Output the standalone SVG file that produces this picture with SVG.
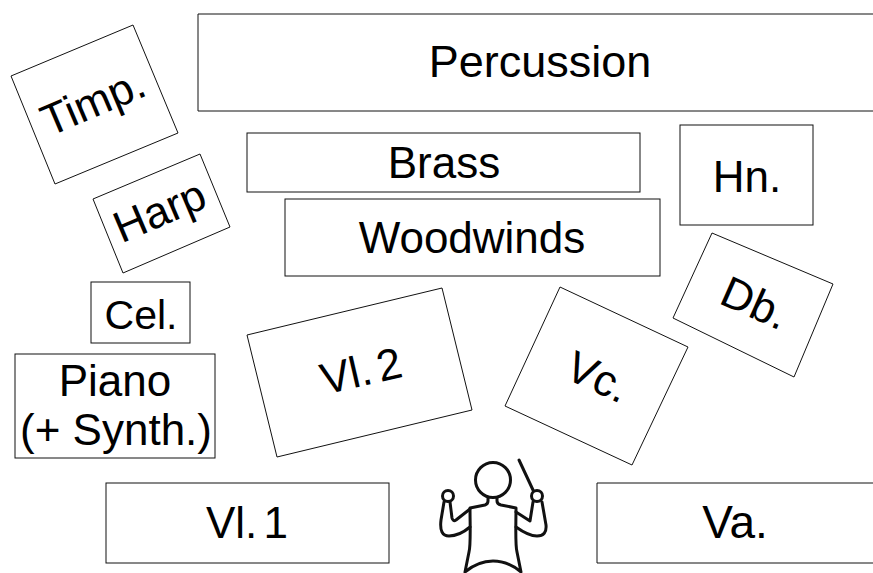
<svg xmlns="http://www.w3.org/2000/svg" width="873" height="573" viewBox="0 0 873 573">
<style>
.b{fill:#fff;stroke:#111;stroke-width:1}
text{font-family:"Liberation Sans",Arial,sans-serif;fill:#000;text-anchor:middle;font-size:44px}
.c{fill:none;stroke:#111;stroke-width:3;stroke-linecap:round;stroke-linejoin:round}
</style>
<rect width="873" height="573" fill="#fff"/>
<g id="percussion"><path class="b" d="M873 14H198V111H873"/><text x="540" y="77" style="font-size:45px">Percussion</text></g>
<g id="timp"><polygon class="b" points="11,76 133,25 178,133 55,184"/><text transform="translate(93 102) rotate(-23)" x="0" y="15">Timp.</text></g>
<g id="brass"><rect class="b" x="247" y="133" width="393" height="59"/><text x="444" y="178" style="font-size:44px">Brass</text></g>
<g id="hn"><rect class="b" x="680" y="125" width="133" height="100"/><text x="747" y="192">Hn.</text></g>
<g id="harp"><polygon class="b" points="93,199 200,154 230,227 123,273"/><text transform="translate(160 212) rotate(-23)" x="0" y="14">Harp</text></g>
<g id="woodwinds"><rect class="b" x="285" y="199" width="375" height="77"/><text x="472" y="253">Woodwinds</text></g>
<g id="db"><polygon class="b" points="712,233 833,284 794,377 673,318"/><text transform="translate(755 303) rotate(24)" x="0" y="15">Db.</text></g>
<g id="cel"><rect class="b" x="91" y="282" width="99" height="61"/><text x="141" y="329" style="font-size:41px">Cel.</text></g>
<g id="piano"><rect class="b" x="15" y="354" width="200" height="104"/><text x="115" y="396">Piano</text><text x="116" y="445">(+ Synth.)</text></g>
<g id="vl2"><polygon class="b" points="247,335 442,288 472,410 277,457"/><text transform="translate(361 371) rotate(-13)" x="0" y="15" word-spacing="-6">Vl. 2</text></g>
<g id="vc"><polygon class="b" points="560,287 688,347 632,465 505,406"/><text transform="translate(598 377) rotate(25)" x="0" y="15">Vc.</text></g>
<g id="vl1"><rect class="b" x="106" y="483" width="283" height="80"/><text x="247" y="538" word-spacing="-6">Vl. 1</text></g>
<g id="va"><path class="b" d="M873 483H597V563H873"/><text x="735" y="538" style="font-size:46px">Va.</text></g>
<g id="conductor">
<circle class="c" cx="493" cy="480" r="17.5"/>
<circle class="c" cx="448" cy="496" r="5.5"/>
<circle class="c" cx="537" cy="496" r="5.5"/>
<path class="c" d="M519 460L533 490"/>
<path class="c" d="M488 498V501Q488 504 485 505L470 508C470 525 471 545 469 552L465 572Q478 561 493 561Q508 561 521 572L517 552C515 545 516 525 516 508L501 505Q497 504 497 501V498"/>
<path class="c" d="M470 509L456 520Q453 522 452 518L450 502"/>
<path class="c" d="M444 502L441 520Q439 536 449 536C456 536 464 532 470 527"/>
<path class="c" d="M516 512L530 521L533 502"/>
<path class="c" d="M542 502L546 525Q547 536 537 536C530 536 523 532 516 527"/>
</g>
</svg>
